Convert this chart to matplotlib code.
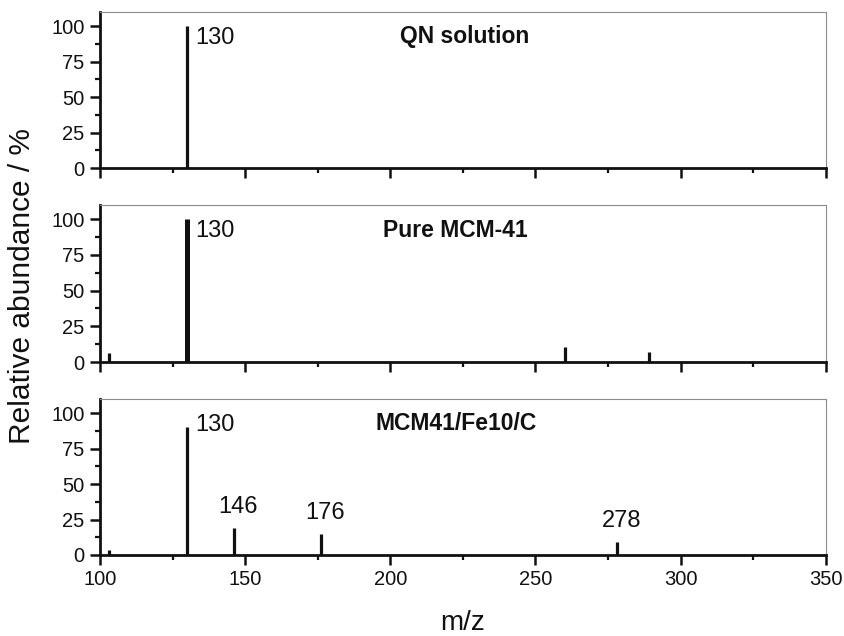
import matplotlib
matplotlib.use("Agg")
import matplotlib.pyplot as plt
from matplotlib.ticker import MultipleLocator

plt.rcParams["font.family"] = ["Liberation Sans", "DejaVu Sans"]

# peak lists (m/z, relative abundance %)
qn_mz = [130]
qn_ab = [100]
pure_mz = [103, 130, 260, 289]
pure_ab = [6, 100, 10.5, 7]
fe_mz = [103, 130, 146, 176, 278]
fe_ab = [3.5, 90, 19, 15, 9.4]

titles = ["QN solution", "Pure MCM-41", "MCM41/Fe10/C"]
labelled = [[130], [130], [130, 146, 176, 278]]

panels = [(qn_mz, qn_ab), (pure_mz, pure_ab), (fe_mz, fe_ab)]

fig = plt.figure(figsize=(8.45, 6.36), dpi=100)
boxes = [(0.1183, 0.7358, 0.859, 0.2453),
         (0.1183, 0.4308, 0.859, 0.2469),
         (0.1183, 0.1274, 0.859, 0.2452)]
title_x = [0.503, 0.49, 0.49]

for i, ((mz, ab), box) in enumerate(zip(panels, boxes)):
    ax = fig.add_axes(box)
    for m, a in zip(mz, ab):
        lw = 3.6 if (i == 1 and m == 130) else 2.3
        ax.vlines(m, 0, a, color="#111111", lw=lw)
        if m in labelled[i]:
            if m == 130:
                ax.text(m + 2.8, a - 8 if a >= 100 else a + 1.5, str(m), fontsize=17,
                        ha="left", va="center", color="#111111")
            else:
                ax.text(m + 1.5, a + 14.5, str(m), fontsize=17,
                        ha="center", va="center", color="#111111")
    ax.text(title_x[i], 0.84, titles[i], transform=ax.transAxes, fontsize=16.5,
            fontweight="bold", ha="center", va="center", color="#111111")
    ax.set_xlim(100, 350)
    ax.set_ylim(0, 110)
    ax.xaxis.set_major_locator(MultipleLocator(50))
    ax.xaxis.set_minor_locator(MultipleLocator(25))
    ax.yaxis.set_major_locator(MultipleLocator(25))
    ax.yaxis.set_minor_locator(MultipleLocator(12.5))
    for s in ("left", "bottom"):
        ax.spines[s].set_linewidth(2.0)
        ax.spines[s].set_color("#111111")
    for s in ("top", "right"):
        ax.spines[s].set_linewidth(0.8)
        ax.spines[s].set_color("#8c8c8c")
    ax.tick_params(which="major", length=7.5, width=1.8, color="#111111",
                   labelsize=14.5, labelcolor="#111111", direction="out")
    ax.tick_params(which="minor", length=3.5, width=1.6, color="#111111", direction="out")
    ax.tick_params(top=False, right=False, which="both")
    if i < 2:
        ax.tick_params(labelbottom=False)

fig.text(0.026, 0.55, "Relative abundance / %", rotation=90, fontsize=21.5,
         ha="center", va="center", color="#111111")
fig.text(0.548, 0.02, "m/z", fontsize=20, ha="center", va="center", color="#111111")

fig.savefig("out.png", dpi=100)
